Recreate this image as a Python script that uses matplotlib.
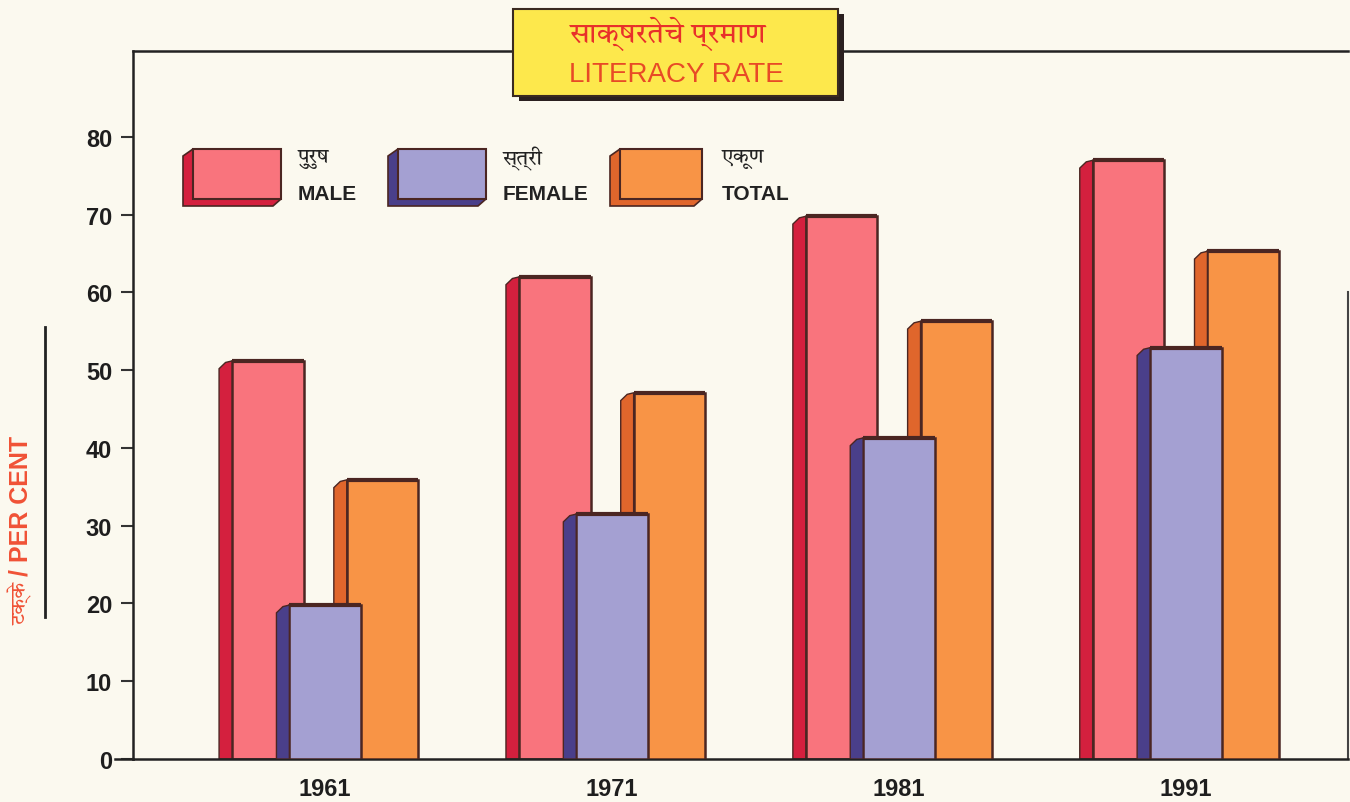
import matplotlib
matplotlib.use('Agg')
import matplotlib.pyplot as plt
import numpy as np
from matplotlib import font_manager
from matplotlib.ft2font import FT2Font
from matplotlib.patches import Rectangle, Polygon
from matplotlib.lines import Line2D

years = ['1961', '1971', '1981', '1991']
male = [51.2, 62.0, 69.8, 77.0]
female = [19.8, 31.5, 41.3, 52.9]
total = [35.9, 47.1, 56.3, 65.3]
series_mr = ['पुरुष', 'स्त्री', 'एकूण']
series_en = ['MALE', 'FEMALE', 'TOTAL']
yticks = [0, 10, 20, 30, 40, 50, 60, 70, 80]


def find_deva():
    found = []
    for f in font_manager.fontManager.ttflist:
        try:
            if 0x092A in FT2Font(f.fname).get_charmap():
                found.append(f.name)
        except Exception:
            pass

    def rank(n):
        score = 0
        if 'Devanagari' in n:
            score -= 4
        if 'Sans' in n:
            score -= 2
        if 'Mono' in n:
            score += 5
        return score
    found = sorted(set(found), key=rank)
    return found[0] if found else None


deva = find_deva()
latin = 'Liberation Sans'
fam = [deva, latin, 'DejaVu Sans'] if deva else [latin, 'DejaVu Sans']
plt.rcParams['font.family'] = [latin, 'DejaVu Sans']
narrow = ['Liberation Sans Narrow', latin, 'DejaVu Sans']

bg = '#fbf9ef'
edge = '#4b2622'
front = ['#f9747d', '#a4a0d2', '#f89446']
side = ['#d4203e', '#4a3f8a', '#e0662c']

W, H = 1350, 803
fig = plt.figure(figsize=(13.5, 8.03), dpi=100, facecolor=bg)
ax = fig.add_axes([133 / W, 1 - 760 / H, 1215 / W, 708 / H])
ax.set_facecolor(bg)

x = np.arange(len(years))
width = 0.25
depth = 0.045
bevel = 1.0
offsets = [-0.2, 0.0, 0.2]
data = [male, female, total]
zorders = [2, 4, 3]

for k in range(3):
    bars = ax.bar(x + offsets[k], data[k], width, color=front[k], edgecolor=edge,
                  linewidth=1.8, zorder=zorders[k])
    for r in bars:
        x0 = r.get_x()
        h = r.get_height()
        poly = Polygon([(x0 - depth, 0), (x0 - depth, h - bevel),
                        (x0 - depth * 0.5, h - bevel * 0.2), (x0, h), (x0, 0)],
                       closed=True, facecolor=side[k], edgecolor=edge,
                       linewidth=1.0, zorder=zorders[k])
        ax.add_patch(poly)
        ax.plot([x0, x0 + width], [h, h], color=edge, lw=3, zorder=zorders[k] + 0.1,
                solid_capstyle='butt')

ax.set_xlim(-0.67, 3.565)
ax.set_ylim(0, 91.06)
ax.set_yticks(yticks)
ax.set_yticklabels([str(t) for t in yticks], fontsize=17, fontweight='bold', color='#1e1e1e')
ax.set_xticks(x)
ax.set_xticklabels(years, fontsize=17, fontweight='bold', color='#1e1e1e')
ax.tick_params(axis='y', direction='out', length=9, width=1.5, pad=6, color='#333333')
ax.tick_params(axis='x', length=0, pad=13)
for s in ['left', 'top', 'bottom']:
    ax.spines[s].set_linewidth(1.8)
    ax.spines[s].set_color('#222222')
ax.spines['right'].set_color('#444444')
ax.spines['right'].set_linewidth(1.5)
ax.spines['right'].set_bounds(0, 60)


def fx(px):
    return px / W


def fy(py):
    return 1 - py / H


# baseline extends left of the axis
fig.add_artist(Line2D([fx(115), fx(133)], [fy(760), fy(760)], color='#222222', lw=1.8))

# title box
bx0, bx1, by0, by1 = 513, 838, 10, 97
fig.patches.append(Rectangle((fx(bx0 + 6), fy(by1 + 5)), fx(bx1 - bx0), (by1 - by0) / H,
                             transform=fig.transFigure, facecolor='#2a2020', zorder=5))
fig.patches.append(Rectangle((fx(bx0), fy(by1)), fx(bx1 - bx0), (by1 - by0) / H,
                             transform=fig.transFigure, facecolor='#fde84c',
                             edgecolor='#3a2a20', lw=1.5, zorder=6))
fig.text(fx(668), fy(34), 'साक्षरतेचे प्रमाण', ha='center', va='center', fontsize=21,
         fontweight='bold', color='#e8302a', family=fam, zorder=7)
fig.text(fx(676), fy(75), 'LITERACY RATE', ha='center', va='center', fontsize=20,
         color='#e84a26', zorder=7)

# legend
leg_front_x = [193, 398, 620]
leg_text_x = [298, 503, 722]
for k in range(3):
    lx = leg_front_x[k]
    wpx = 88 if k < 2 else 82
    fig.patches.append(Polygon([(fx(lx - 10), fy(207)), (fx(lx - 10), fy(157)), (fx(lx), fy(150)),
                                (fx(lx + wpx), fy(150)), (fx(lx + wpx), fy(200)),
                                (fx(lx + wpx - 8), fy(207))],
                               closed=True, transform=fig.transFigure, facecolor=side[k],
                               edgecolor=edge, lw=1.2, zorder=5))
    fig.patches.append(Rectangle((fx(lx), fy(200)), fx(wpx), 50 / H, transform=fig.transFigure,
                                 facecolor=front[k], edgecolor=edge, lw=1.5, zorder=6))
    fig.text(fx(leg_text_x[k]), fy(159), series_mr[k], ha='left', va='center', fontsize=15,
             fontweight='bold', color='#222222', family=fam)
    fig.text(fx(leg_text_x[k]), fy(195), series_en[k], ha='left', va='center', fontsize=15,
             fontweight='bold', color='#222222')

# y label, Devanagari and Latin parts set separately
fig.text(fx(21), fy(582), 'टक्के', rotation=90, ha='center', va='top',
         fontsize=15, fontweight='bold', color='#f05236', family=fam)
fig.text(fx(21), fy(576), '/ PER CENT', rotation=90, ha='center', va='bottom',
         fontsize=18, fontweight='bold', color='#f05236', family=narrow)
fig.add_artist(Line2D([fx(45), fx(45)], [fy(328), fy(618)], color='#222222', lw=2))

fig.savefig('out.png', dpi=100, facecolor=bg)
